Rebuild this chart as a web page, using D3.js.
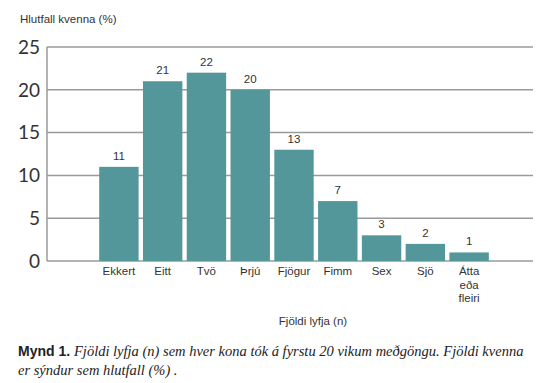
<!DOCTYPE html>
<html>
<head>
<meta charset="utf-8">
<script src="https://cdn.jsdelivr.net/npm/d3@7"></script>
<style>
  body { margin: 0; background: #fff; }
  svg { display: block; }
</style>
</head>
<body>
<svg id="graf"></svg>
<script>
let flokkar = ['Ekkert', 'Eitt', 'Tvö', 'Þrjú', 'Fjögur', 'Fimm', 'Sex', 'Sjö', 'Átta eða fleiri']
let hlutfall = [11, 21, 22, 20, 13, 7, 3, 2, 1]
let yTicks = [0, 5, 10, 15, 20, 25]

function graficar() {
  let width = 550
  let height = 383
  let litur = '#53979a'
  let grar = '#9a9a9a'

  let svg = d3.select('#graf')
    .attr('width', width)
    .attr('height', height)

  let x = d3.scaleBand()
    .domain(flokkar)
    .range([97, 491])
    .paddingInner(0.1)
    .paddingOuter(0.05)

  let y = d3.scaleLinear()
    .domain([0, 25])
    .range([261, 47])

  // gridlines
  svg.append('g')
    .selectAll('line')
    .data(yTicks)
    .enter().append('line')
    .attr('x1', 47)
    .attr('x2', 533)
    .attr('y1', d => y(d))
    .attr('y2', d => y(d))
    .attr('stroke', grar)
    .attr('stroke-width', 1.5)

  // vinstri ás
  svg.append('line')
    .attr('x1', 47).attr('x2', 47)
    .attr('y1', y(25)).attr('y2', y(0))
    .attr('stroke', grar)
    .attr('stroke-width', 1.5)

  // y tick labels
  svg.append('g')
    .selectAll('text')
    .data(yTicks)
    .enter().append('text')
    .attr('x', 40)
    .attr('y', d => y(d))
    .attr('dy', '0.36em')
    .attr('text-anchor', 'end')
    .style('font-family', 'Lato, "Open Sans", sans-serif')
    .style('font-size', '19px')
    .style('fill', '#333')
    .text(d => d)

  let gogn = flokkar.map((f, i) => ({ flokkur: f, gildi: hlutfall[i] }))

  let g = svg.append('g')
    .selectAll('g')
    .data(gogn)
    .enter().append('g')

  g.append('rect')
    .attr('x', d => x(d.flokkur))
    .attr('width', x.bandwidth())
    .attr('y', d => y(d.gildi))
    .attr('height', d => y(0) - y(d.gildi))
    .style('fill', litur)

  g.append('text')
    .attr('x', d => x(d.flokkur) + x.bandwidth() / 2)
    .attr('y', d => y(d.gildi) - 7)
    .attr('text-anchor', 'middle')
    .style('font-family', 'Arial, "Liberation Sans", sans-serif')
    .style('font-size', '11.5px')
    .style('fill', '#333')
    .text(d => d.gildi)

  // flokka merki
  let merki = g.append('text')
    .attr('text-anchor', 'middle')
    .style('font-family', 'Arial, "Liberation Sans", sans-serif')
    .style('font-size', '11.5px')
    .style('fill', '#333')

  merki.selectAll('tspan')
    .data(d => {
      let cx = x(d.flokkur) + x.bandwidth() / 2
      return d.flokkur === 'Átta eða fleiri'
        ? ['Átta', 'eða', 'fleiri'].map((t, i) => ({ t: t, cx: cx, i: i }))
        : [{ t: d.flokkur, cx: cx, i: 0 }]
    })
    .enter().append('tspan')
    .attr('x', d => d.cx)
    .attr('y', d => 275 + d.i * 13.5)
    .text(d => d.t)

  // ásatitlar
  svg.append('text')
    .attr('x', 20)
    .attr('y', 23)
    .style('font-family', 'Arial, "Liberation Sans", sans-serif')
    .style('font-size', '11.5px')
    .style('fill', '#333')
    .text('Hlutfall kvenna (%)')

  svg.append('text')
    .attr('x', 313)
    .attr('y', 325)
    .attr('text-anchor', 'middle')
    .style('font-family', 'Arial, "Liberation Sans", sans-serif')
    .style('font-size', '11.5px')
    .style('fill', '#333')
    .text('Fjöldi lyfja (n)')

  // myndatexti
  let texti = svg.append('text')
    .attr('x', 18)
    .attr('y', 356)
    .style('font-size', '14px')
    .style('fill', '#222')
  texti.append('tspan')
    .style('font-family', 'Arial, "Liberation Sans", sans-serif')
    .style('font-weight', 'bold')
    .text('Mynd 1. ')
  texti.append('tspan')
    .style('font-family', '"Liberation Serif", serif')
    .style('font-style', 'italic')
    .style('font-size', '14.5px')
    .text('Fjöldi lyfja (n) sem hver kona tók á fyrstu 20 vikum meðgöngu. Fjöldi kvenna')

  svg.append('text')
    .attr('x', 18)
    .attr('y', 375)
    .style('font-family', '"Liberation Serif", serif')
    .style('font-style', 'italic')
    .style('font-size', '14.5px')
    .style('fill', '#222')
    .text('er sýndur sem hlutfall (%) .')
}

graficar()
</script>
</body>
</html>
